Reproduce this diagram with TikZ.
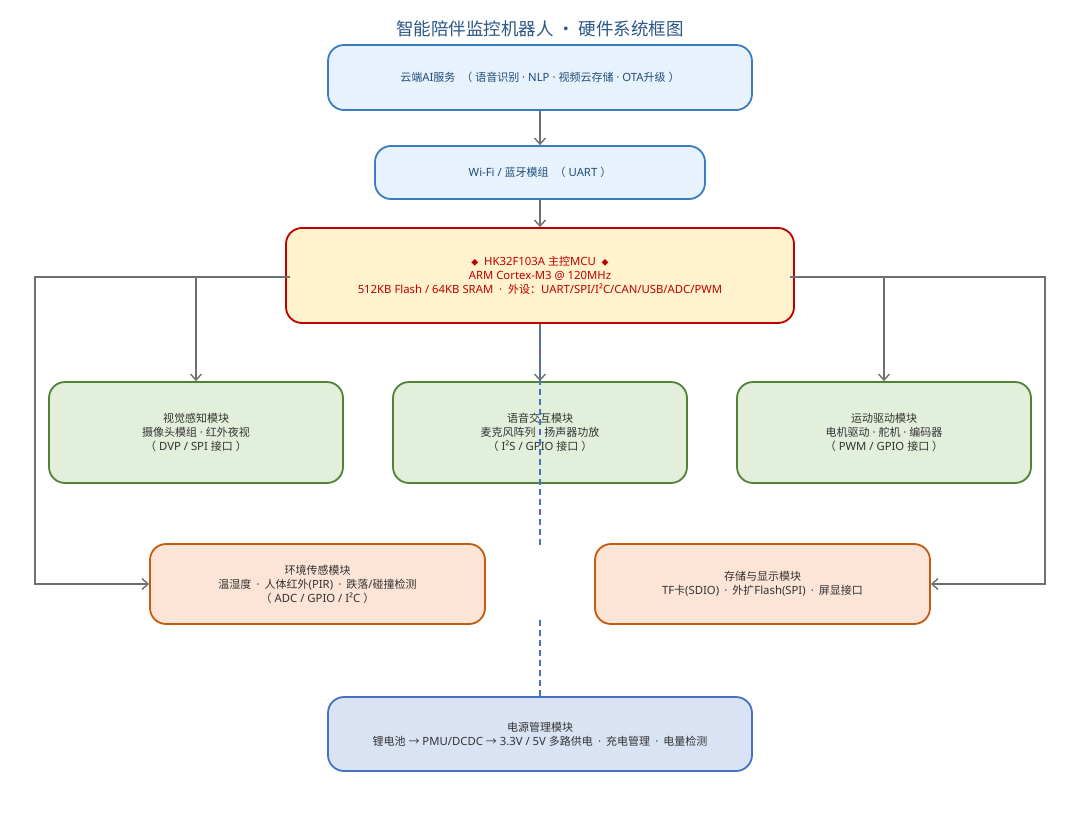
\documentclass[tikz,border=0pt]{standalone}
\usepackage{fontspec}
\setmainfont{Noto Sans}[Scale=1.03]
\newfontfamily\cjkfont{Noto Sans CJK SC}
\newcommand{\C}[1]{{\cjkfont #1}}
\usetikzlibrary{arrows.meta,calc}
\definecolor{titlec}{HTML}{2A5788}
\definecolor{bluefill}{HTML}{E7F2FC}
\definecolor{bluedraw}{HTML}{3A7DC1}
\definecolor{bluetext}{HTML}{1F4E79}
\definecolor{mcufill}{HTML}{FFF2CC}
\definecolor{mcudraw}{HTML}{C00000}
\definecolor{greenfill}{HTML}{E2EFDA}
\definecolor{greendraw}{HTML}{548235}
\definecolor{orangefill}{HTML}{FCE4D6}
\definecolor{orangedraw}{HTML}{C55A11}
\definecolor{pwrfill}{HTML}{DAE3F3}
\definecolor{pwrdraw}{HTML}{4472C4}
\definecolor{txt}{HTML}{333333}
\definecolor{arrc}{HTML}{707070}
\tikzset{
  box/.style={draw, line width=1.8pt, rounded corners=16pt, align=center,
    font=\fontsize{11}{14}\selectfont, inner sep=0pt},
  cloudbox/.style={box, fill=bluefill, draw=bluedraw, text=bluetext},
  mcubox/.style={box, fill=mcufill, draw=mcudraw, text=mcudraw},
  greenbox/.style={box, fill=greenfill, draw=greendraw, text=txt},
  orangebox/.style={box, fill=orangefill, draw=orangedraw, text=txt},
  pwrbox/.style={box, fill=pwrfill, draw=pwrdraw, text=txt},
  arr/.style={draw=arrc, line width=1.5pt, -{Straight Barb[length=6pt,width=11pt,line width=1.4pt]}},
  pwrline/.style={draw=pwrdraw, line width=1.6pt, dash pattern=on 6pt off 4pt},
}
\newcommand{\sep}{\hspace{0.45em}·\hspace{0.45em}}
\begin{document}
\begin{tikzpicture}[x=1pt,y=-1pt]
\useasboundingbox[fill=white] (0,0) rectangle (1080,838);
\node[text=titlec, font=\fontsize{17.5}{20}\selectfont\cjkfont] (title) at (540,29) {智能陪伴监控机器人 · 硬件系统框图};
\node[cloudbox, minimum width=424pt, minimum height=65pt] (cloud) at (540,77.5)
  {\C{云端}AI\C{服务}\ \ \C{（} \C{语音识别} · NLP · \C{视频云存储} · OTA\C{升级} \C{）}};
\node[cloudbox, minimum width=330pt, minimum height=53pt] (wifi) at (540,172.5)
  {Wi-Fi / \C{蓝牙模组}\ \ \C{（} UART \C{）}};
\node[mcubox, minimum width=508pt, minimum height=95pt] (mcu) at (540,275.5)
  {{\cjkfont\fontsize{7}{14}\selectfont ◆}\ \ HK32F103A \C{主控}MCU\ \ {\cjkfont\fontsize{7}{14}\selectfont ◆}\\ARM Cortex-M3 @ 120MHz\\512KB Flash / 64KB SRAM\ \ ·\ \ \C{外设：}UART/SPI/I²C/CAN/USB/ADC/PWM};
\node[greenbox, minimum width=294pt, minimum height=101pt] (vision) at (196,432.5)
  {\C{视觉感知模块}\\\C{摄像头模组} · \C{红外夜视}\\\C{（} DVP / SPI \C{接口} \C{）}};
\node[greenbox, minimum width=294pt, minimum height=101pt] (speech) at (540,432.5)
  {\C{语音交互模块}\\\C{麦克风阵列} · \C{扬声器功放}\\\C{（} I²S / GPIO \C{接口} \C{）}};
\node[greenbox, minimum width=294pt, minimum height=101pt] (motion) at (884,432.5)
  {\C{运动驱动模块}\\\C{电机驱动} · \C{舵机} · \C{编码器}\\\C{（} PWM / GPIO \C{接口} \C{）}};
\node[orangebox, minimum width=335pt, minimum height=80pt] (env) at (317.5,584)
  {\C{环境传感模块}\\\C{温湿度}\sep\C{人体红外}(PIR)\sep\C{跌落}/\C{碰撞检测}\\\C{（} ADC / GPIO / I²C \C{）}};
\node[orangebox, minimum width=335pt, minimum height=80pt] (store) at (762.5,584)
  {\C{存储与显示模块}\\TF\C{卡}(SDIO)\sep\C{外扩}Flash(SPI)\sep\C{屏显接口}};
\node[pwrbox, minimum width=424pt, minimum height=74pt] (power) at (540,734)
  {\C{电源管理模块}\\\C{锂电池} \C{→} PMU/DCDC \C{→} 3.3V / 5V \C{多路供电}\sep\C{充电管理}\sep\C{电量检测}};
\coordinate (lc) at (35,277);
\coordinate (rc) at (1045,277);
\coordinate (dA) at (540,548);
\coordinate (dB) at (540,620);
\draw[arr] (cloud.south) -- (wifi.north);
\draw[arr] (wifi.south) -- (mcu.north);
\draw[arr] (mcu.south) -- (speech.north);
\draw[arr] ([xshift=5pt]mcu.west |- lc) -- (lc) |- (env.west);
\draw[arr] ([xshift=-5pt]mcu.east |- rc) -- (rc) |- (store.east);
\draw[arr] (vision.north |- lc) -- (vision.north);
\draw[arr] (motion.north |- rc) -- (motion.north);
\draw[pwrline] ([yshift=-5pt]mcu.south) -- (dA);
\draw[pwrline] (dB) -- (power.north);
\end{tikzpicture}
\end{document}
